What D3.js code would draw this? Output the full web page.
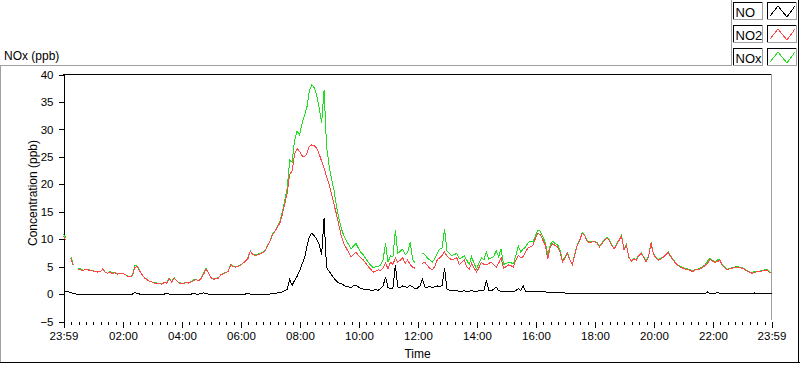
<!DOCTYPE html>
<html><head><meta charset="utf-8">
<script src="https://cdn.jsdelivr.net/npm/d3@7"></script>
<style>
body{margin:0;background:#fff}
svg{display:block}
text{font-family:"Liberation Sans",Arial,sans-serif;fill:#000}
</style>
</head><body>
<svg id="c" width="800" height="365"></svg>
<script>
// ---- data (5-minute samples starting at 23:59) ----
const stepMinutes = 5;
const seriesNames = ["NO", "NO2", "NOx"];
const seriesColors = ["#000000", "#ff4646", "#1ee01e"];
const yTicks = [-5, 0, 5, 10, 15, 20, 25, 30, 35, 40];
const xTickLabels = ["23:59","02:00","04:00","06:00","08:00","10:00","12:00","14:00","16:00","18:00","20:00","22:00","23:59"];
const xTickMinutes = [0,121,241,361,481,601,721,841,961,1081,1201,1321,1440];

const no2 = [
10.5,9.8,null,6.5,5.2,null,4.5,4.4,4.3,4.5,4.4,4.3,
4.2,4.1,4.0,4.1,4.6,3.9,3.8,4.0,3.7,3.9,3.6,3.8,
3.7,3.6,3.2,3.1,3.3,4.8,5.0,4.2,3.5,2.9,2.6,2.3,
2.2,2.0,2.0,1.9,1.8,2.1,2.0,2.8,2.2,2.9,2.4,2.0,
2.0,1.9,2.1,2.0,2.2,2.5,2.6,2.4,2.9,3.6,4.6,3.8,
3.0,2.7,2.8,2.9,3.5,3.7,3.9,4.1,5.3,5.0,4.9,5.0,
5.2,5.6,6.0,6.4,7.8,7.2,7.0,7.2,7.3,7.5,7.8,8.8,
9.6,10.8,11.4,12.2,12.9,14.5,16.4,18.4,21.8,22.4,25.5,26.5,
26.0,25.2,25.0,25.6,26.9,27.2,27.0,26.6,25.5,24.2,23.0,21.4,
20.0,18.2,16.4,14.6,12.6,10.6,9.2,8.4,7.6,6.8,7.2,7.6,
7.0,6.6,6.2,5.6,5.0,4.5,4.0,4.2,4.4,4.3,4.8,5.6,
4.6,5.8,5.4,6.6,5.8,6.2,6.6,5.6,6.2,5.4,4.9,4.7,
null,null,5.6,5.8,5.2,4.7,4.4,5.0,6.2,6.6,7.0,7.7,
6.9,6.5,6.2,6.4,6.6,5.4,5.8,6.2,5.0,4.5,5.6,4.8,
4.0,4.8,5.8,5.4,5.3,5.6,5.8,5.4,4.9,5.6,6.6,4.7,
5.0,5.3,5.2,4.9,6.2,7.1,6.6,6.8,7.8,8.4,8.6,8.9,
10.2,11.1,10.8,9.8,8.9,6.4,8.6,9.2,8.8,8.6,7.7,5.8,
6.6,7.4,6.2,5.3,7.2,8.9,9.8,11.1,10.7,9.6,9.4,9.5,
9.5,9.3,8.6,9.2,9.8,10.2,9.8,8.9,8.2,9.0,9.8,10.6,
8.0,8.9,6.6,6.0,6.4,6.2,7.0,7.4,6.7,5.9,6.8,9.3,
7.2,6.6,6.2,6.4,6.7,7.2,7.6,6.8,6.2,5.6,5.2,4.9,
4.7,4.5,4.5,4.3,4.1,4.4,4.4,4.6,4.9,5.2,5.6,6.4,
6.0,5.8,5.9,6.2,5.2,4.8,4.4,4.6,4.7,4.8,4.9,4.8,
4.7,4.5,4.2,4.0,3.8,3.9,4.1,4.0,4.2,4.3,4.4,4.0,
3.8];

const no = [
0.4,0.4,0.4,0.3,0.1,0,0,0,0,0,0,0,
0,0,0,0,0,0,0,0,0,0,0,0,
0,0,0,0,0,0.3,0.1,0,0,0,0,0,
0,0,0,0,0,0,0.1,0,0,0,0,0,
0,0,0,0,0,0.1,0,0,0.1,0.2,0.1,0,
0,0,0,0,0,0,0,0,0,0,0,0,
0,0,0,0.2,0,0,0,0,0,0,0,0,
0,0.1,0.1,0.2,0.3,0.4,0.6,0.9,2.6,1.6,2.5,3.2,
4.2,5.4,6.5,8.6,10.4,11.1,10.6,10.0,9.0,7.2,13.8,4.8,
4.2,3.5,2.9,2.4,2.0,1.9,1.6,1.4,1.3,1.2,1.5,1.6,
1.3,1.0,0.9,0.8,0.8,0.7,0.7,0.8,0.7,1.0,1.5,3.1,
1.2,1.0,1.1,5.3,1.3,1.2,1.5,1.3,1.2,1.6,1.3,1.0,
1.1,1.5,2.7,1.3,1.2,1.4,1.2,1.3,1.5,1.3,1.6,4.7,
0.9,0.7,0.7,0.6,0.6,0.5,0.5,0.6,0.5,0.5,0.6,0.5,
0.5,0.6,0.6,0.7,2.5,0.7,0.6,0.9,1.3,0.6,0.5,0.5,
0.5,0.4,0.5,0.5,0.6,1.0,0.6,1.5,0.5,0.4,0.4,0.4,
0.4,0.5,0.4,0.4,0.4,0.3,0.3,0.3,0.2,0.2,0.2,0.2,
0.2,0.1,0.1,0.1,0.1,0.1,0.1,0.1,0.1,0.1,0.1,0.1,
0.1,0.1,0.1,0.1,0.1,0.1,0.1,0.1,0.1,0.1,0.1,0.1,
0.1,0.1,0.1,0.1,0.1,0.1,0.1,0.1,0.1,0.1,0.1,0.1,
0.1,0.1,0.1,0.1,0.1,0.1,0.1,0.1,0.1,0.1,0.1,0.1,
0.1,0.1,0.1,0.1,0.1,0.1,0.1,0.1,0.1,0.1,0.4,0.1,
0.1,0.1,0.3,0.1,0.1,0.1,0.1,0.1,0.1,0.1,0.1,0.1,
0.1,0.1,0.1,0.1,0.1,0.2,0.1,0.1,0.1,0.1,0.1,0.1,
0.1];

const nox = [
10.9,10.2,null,6.8,5.3,null,4.6,4.6,4.3,4.5,4.5,4.3,
4.3,4.1,4.1,4.1,4.6,4.0,3.8,4.1,3.8,3.9,3.7,3.8,
3.8,3.6,3.3,3.1,3.4,5.2,5.1,4.3,3.5,3.0,2.7,2.3,
2.2,2.1,2.0,1.9,1.9,2.1,2.1,2.9,2.2,3.0,2.4,2.1,
2.0,2.0,2.1,2.0,2.3,2.6,2.6,2.5,3.0,3.8,4.7,3.8,
3.0,2.8,2.8,3.0,3.5,3.8,3.9,4.2,5.4,5.0,5.0,5.1,
5.3,5.6,6.1,6.6,7.9,7.2,7.1,7.3,7.3,7.6,7.9,8.9,
9.6,10.9,11.5,12.4,13.2,14.9,17.0,19.3,24.4,24.0,28.0,29.7,
29.0,31.0,32.5,34.0,37.0,38.1,37.6,36.2,34.0,31.2,37.2,27.0,
23.5,21.0,19.0,16.2,13.8,12.0,10.6,9.8,9.0,8.2,8.8,9.2,
8.3,7.6,7.1,6.4,5.8,5.2,4.8,5.0,5.0,5.3,6.3,9.2,
5.8,7.0,6.8,11.7,7.4,7.8,8.2,7.2,7.6,9.4,6.4,5.6,
null,null,7.4,7.2,6.6,6.2,5.8,6.4,7.4,8.2,8.4,11.8,
7.8,7.4,7.0,7.2,7.4,6.4,6.6,7.0,6.2,5.4,6.8,5.6,
4.6,5.6,6.6,6.2,7.7,6.4,6.6,6.8,7.9,6.8,8.2,5.4,
5.6,5.8,5.7,5.5,7.0,8.8,7.6,8.2,8.6,9.4,9.6,9.6,
10.6,11.7,11.4,10.4,9.4,7.0,9.0,9.6,9.2,9.0,8.0,6.0,
6.8,7.5,6.3,5.4,7.3,9.0,9.9,11.2,10.8,9.7,9.6,9.6,
9.6,9.4,8.7,9.3,9.9,10.3,9.9,9.0,8.3,9.1,9.9,10.7,
8.1,9.0,6.7,6.1,6.5,6.3,7.1,7.5,6.8,6.0,6.9,9.4,
7.3,6.7,6.3,6.5,6.8,7.3,7.7,6.9,6.3,5.7,5.3,5.0,
4.8,4.6,4.6,4.4,4.2,4.5,4.5,4.7,5.0,5.3,6.0,6.5,
6.1,5.9,6.2,6.3,5.3,4.9,4.5,4.7,4.8,4.9,5.0,4.9,
4.8,4.6,4.3,4.1,3.9,4.1,4.2,4.1,4.3,4.4,4.5,4.1,
3.9];

// ---- drawing ----
const svg = d3.select("#c");
const x = d3.scaleLinear().domain([0, 1440]).range([63.5, 771.5]);
const y = d3.scaleLinear().domain([-5, 40]).range([321.5, 74.5]);

// outer frame
const frame = svg.append("g").attr("shape-rendering", "crispEdges");
frame.append("line").attr("x1", 0).attr("x2", 731).attr("y1", 65.5).attr("y2", 65.5).attr("stroke", "#a0a0a0");
frame.append("line").attr("x1", 0.5).attr("x2", 0.5).attr("y1", 65).attr("y2", 363).attr("stroke", "#a0a0a0");
frame.append("line").attr("x1", 731.5).attr("x2", 731.5).attr("y1", 0).attr("y2", 66).attr("stroke", "#a0a0a0");
frame.append("line").attr("x1", 0).attr("x2", 800).attr("y1", 362.5).attr("y2", 362.5).attr("stroke", "#000");
frame.append("line").attr("x1", 798.5).attr("x2", 798.5).attr("y1", 0).attr("y2", 363).attr("stroke", "#000");

// plot border
frame.append("line").attr("x1", 63).attr("x2", 772).attr("y1", 74.5).attr("y2", 74.5).attr("stroke", "#000");
frame.append("line").attr("x1", 771.5).attr("x2", 771.5).attr("y1", 74).attr("y2", 320).attr("stroke", "#a0a0a0");

// y axis
const yAxis = svg.append("g").attr("transform", "translate(63.5,0)")
  .call(d3.axisLeft(y).tickValues(yTicks).tickSize(5).tickSizeOuter(0).tickPadding(5));
yAxis.selectAll("path,line").attr("stroke", "#000").attr("shape-rendering", "crispEdges");
yAxis.selectAll("text").style("font-size", "11.5px").attr("fill", "#000");

// x axis minor ticks (15 min)
const minor = d3.range(1, 96).map(j => 1 + 15 * j).filter(m => (m - 1) % 120 !== 0);
const xMinor = svg.append("g").attr("transform", "translate(0,321.5)")
  .call(d3.axisBottom(x).tickValues(minor).tickSize(3).tickFormat(""));
xMinor.select(".domain").remove();
xMinor.selectAll("line").attr("stroke", "#000").attr("shape-rendering", "crispEdges");

// x axis major ticks
const xAxis = svg.append("g").attr("transform", "translate(0,321.5)")
  .call(d3.axisBottom(x).tickValues(xTickMinutes).tickSize(6).tickPadding(4)
    .tickFormat((d, i) => xTickLabels[i]));
xAxis.select(".domain").remove();
xAxis.selectAll("line").attr("stroke", "#000").attr("shape-rendering", "crispEdges");
xAxis.selectAll("text").style("font-size", "11.5px").attr("fill", "#000");

// titles
svg.append("text").attr("x", 417.5).attr("y", 357.5).attr("text-anchor", "middle")
  .style("font-size", "12px").text("Time");
svg.append("text").attr("transform", "translate(36.5,193) rotate(-90)").attr("text-anchor", "middle")
  .style("font-size", "12px").text("Concentration (ppb)");
svg.append("text").attr("x", 4).attr("y", 59.5).style("font-size", "12px").text("NOx (ppb)");

// lines
const line = d3.line()
  .defined(d => d != null)
  .x((d, i) => x(i * stepMinutes))
  .y(d => y(d));
const plot = svg.append("g");
[[nox, 2], [no2, 1], [no, 0]].forEach(([arr, k]) => {
  plot.append("path").datum(arr)
    .attr("d", line)
    .attr("fill", "none")
    .attr("stroke", seriesColors[k])
    .attr("stroke-width", 1)
    .attr("shape-rendering", "crispEdges");
});

// legend
const lg = svg.append("g").attr("shape-rendering", "crispEdges");
seriesNames.forEach((name, k) => {
  const y0 = 2 + k * 23;
  const drawBox = (bx, bw) => {
    lg.append("rect").attr("x", bx).attr("y", y0).attr("width", bw).attr("height", 18).attr("fill", "#fff");
    lg.append("line").attr("x1", bx + 0.5).attr("x2", bx + 0.5).attr("y1", y0).attr("y2", y0 + 18).attr("stroke", "#000");
    lg.append("line").attr("x1", bx).attr("x2", bx + bw).attr("y1", y0 + 0.5).attr("y2", y0 + 0.5).attr("stroke", "#000");
    lg.append("line").attr("x1", bx + bw - 0.5).attr("x2", bx + bw - 0.5).attr("y1", y0).attr("y2", y0 + 18).attr("stroke", "#a0a0a0");
    lg.append("line").attr("x1", bx).attr("x2", bx + bw).attr("y1", y0 + 17.5).attr("y2", y0 + 17.5).attr("stroke", "#a0a0a0");
  };
  drawBox(733, 30);
  drawBox(767, 30);
  svg.append("text").attr("x", 735.5).attr("y", y0 + 14.5).style("font-size", "13px").text(name);
  svg.append("path")
    .attr("d", d3.line()([[770, y0 + 14], [778, y0 + 4], [787, y0 + 15], [795, y0 + 4]]))
    .attr("fill", "none").attr("stroke", seriesColors[k]).attr("stroke-width", 1)
    .attr("shape-rendering", "crispEdges");
});
</script>
</body></html>
